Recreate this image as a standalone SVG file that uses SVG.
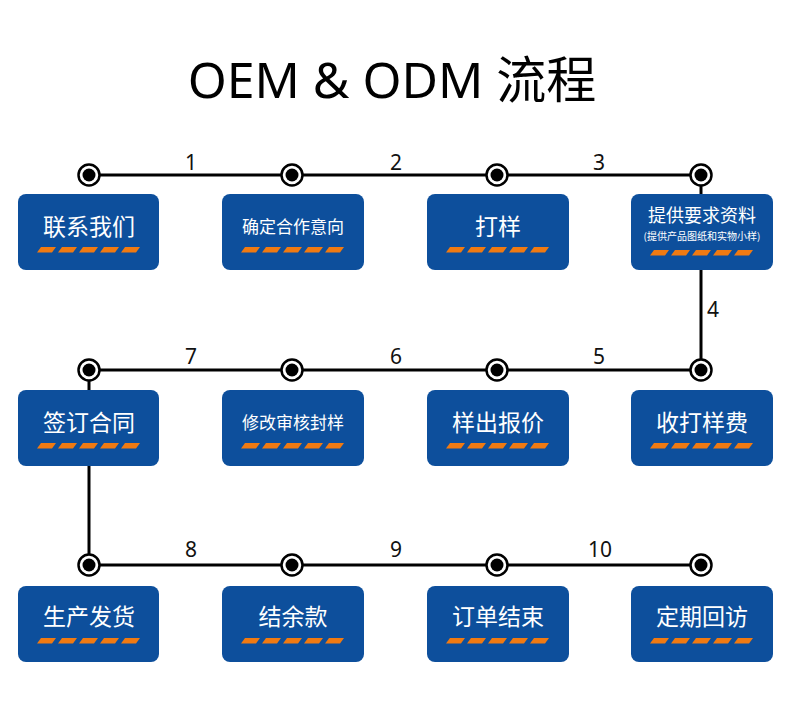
<svg xmlns="http://www.w3.org/2000/svg" xmlns:xlink="http://www.w3.org/1999/xlink" width="790" height="717" viewBox="0 0 790 717">
<style>
.box{fill:#0d4f9c}
.t{fill:#fff;font-family:"Noto Sans CJK SC","Noto Sans",sans-serif;text-anchor:middle}
.big{font-size:23px}
.mid{font-size:17px}
.num{font-family:"Noto Sans","Open Sans",sans-serif;font-size:21px;fill:#111;text-anchor:middle}
.ln{stroke:#000;stroke-width:3;fill:none}
</style>
<defs>
<g id="dash" fill="#f07a12">
<polygon points="-48,0 -33,0 -37,5.5 -52,5.5"/>
<polygon points="-27,0 -12,0 -16,5.5 -31,5.5"/>
<polygon points="-6,0 9,0 5,5.5 -10,5.5"/>
<polygon points="15,0 30,0 26,5.5 11,5.5"/>
<polygon points="36,0 51,0 47,5.5 32,5.5"/>
</g>
<g id="dot">
<circle r="10.5" fill="#fff" stroke="#000" stroke-width="2.5"/>
<circle r="6.5" fill="#000"/>
</g>
</defs>
<rect width="790" height="717" fill="#fff"/>
<text x="392" y="98" font-family="Noto Sans,Noto Sans CJK SC,sans-serif" font-size="50" text-anchor="middle" fill="#000">OEM &amp; ODM 流程</text>

<g id="connectors">
<line class="ln" x1="89" y1="175" x2="701" y2="175"/>
<line class="ln" x1="701" y1="175" x2="701" y2="370"/>
<line class="ln" x1="89" y1="370" x2="701" y2="370"/>
<line class="ln" x1="89" y1="370" x2="89" y2="565"/>
<line class="ln" x1="89" y1="565" x2="701" y2="565"/>
<text class="num" x="191" y="170">1</text>
<text class="num" x="396" y="170">2</text>
<text class="num" x="599" y="170">3</text>
<text class="num" x="713" y="317">4</text>
<text class="num" x="599" y="364">5</text>
<text class="num" x="396" y="364">6</text>
<text class="num" x="191" y="364">7</text>
<text class="num" x="191" y="557">8</text>
<text class="num" x="396" y="557">9</text>
<text class="num" x="600" y="557">10</text>
<use xlink:href="#dot" x="89" y="175"/><use xlink:href="#dot" x="292" y="175"/><use xlink:href="#dot" x="497" y="175"/><use xlink:href="#dot" x="701" y="175"/>
<use xlink:href="#dot" x="89" y="370"/><use xlink:href="#dot" x="292" y="370"/><use xlink:href="#dot" x="497" y="370"/><use xlink:href="#dot" x="701" y="370"/>
<use xlink:href="#dot" x="89" y="565"/><use xlink:href="#dot" x="292" y="565"/><use xlink:href="#dot" x="497" y="565"/><use xlink:href="#dot" x="701" y="565"/>
</g>

<g id="n1"><rect class="box" x="18" y="194" width="141" height="76" rx="8"/><text class="t big" x="89" y="235">联系我们</text><use xlink:href="#dash" x="89" y="247"/></g>
<g id="n2"><rect class="box" x="222" y="194" width="142" height="76" rx="8"/><text class="t mid" x="293" y="233">确定合作意向</text><use xlink:href="#dash" x="293" y="247"/></g>
<g id="n3"><rect class="box" x="427" y="194" width="142" height="76" rx="8"/><text class="t big" x="498" y="235">打样</text><use xlink:href="#dash" x="498" y="247"/></g>
<g id="n4"><rect class="box" x="631" y="194" width="142" height="76" rx="8"/><text class="t" x="702" y="222" font-size="18">提供要求资料</text><text class="t" x="702" y="240" font-size="10">(提供产品图纸和实物小样)</text><use xlink:href="#dash" x="702" y="250"/></g>

<g id="n5"><rect class="box" x="631" y="390" width="142" height="76" rx="8"/><text class="t big" x="702" y="431">收打样费</text><use xlink:href="#dash" x="702" y="443"/></g>
<g id="n6"><rect class="box" x="427" y="390" width="142" height="76" rx="8"/><text class="t big" x="498" y="431">样出报价</text><use xlink:href="#dash" x="498" y="443"/></g>
<g id="n7"><rect class="box" x="222" y="390" width="142" height="76" rx="8"/><text class="t mid" x="293" y="429">修改审核封样</text><use xlink:href="#dash" x="293" y="443"/></g>
<g id="n8"><rect class="box" x="18" y="390" width="141" height="76" rx="8"/><text class="t big" x="89" y="431">签订合同</text><use xlink:href="#dash" x="89" y="443"/></g>

<g id="n9"><rect class="box" x="18" y="586" width="141" height="76" rx="8"/><text class="t big" x="89" y="625">生产发货</text><use xlink:href="#dash" x="89" y="638"/></g>
<g id="n10"><rect class="box" x="222" y="586" width="142" height="76" rx="8"/><text class="t big" x="293" y="625">结余款</text><use xlink:href="#dash" x="293" y="638"/></g>
<g id="n11"><rect class="box" x="427" y="586" width="142" height="76" rx="8"/><text class="t big" x="498" y="625">订单结束</text><use xlink:href="#dash" x="498" y="638"/></g>
<g id="n12"><rect class="box" x="631" y="586" width="142" height="76" rx="8"/><text class="t big" x="702" y="625">定期回访</text><use xlink:href="#dash" x="702" y="638"/></g>
</svg>
